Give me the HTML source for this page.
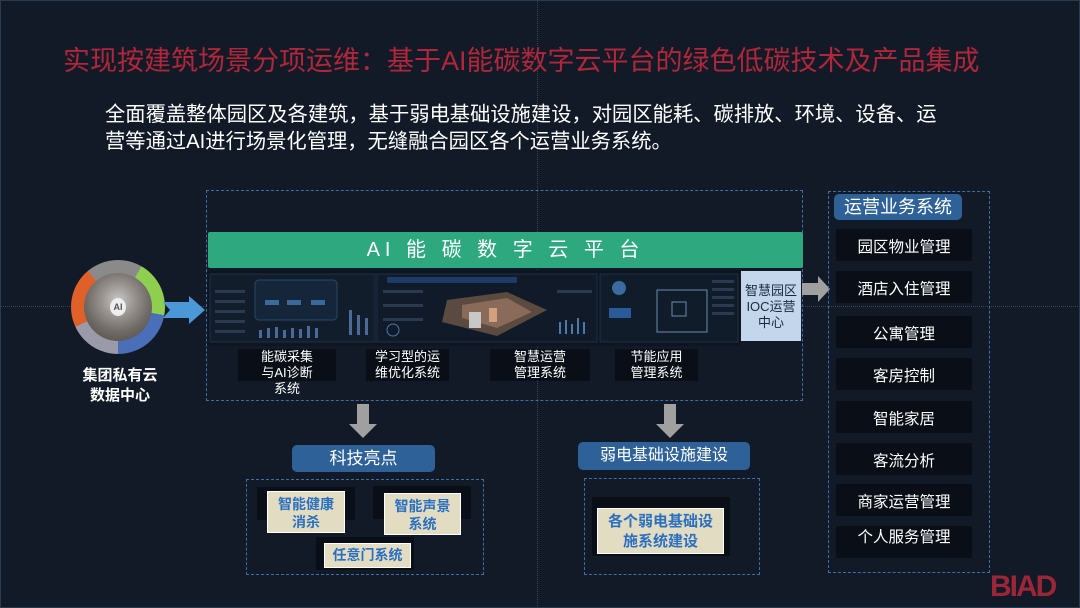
<!DOCTYPE html>
<html><head><meta charset="utf-8">
<style>
*{margin:0;padding:0;box-sizing:border-box}
body{width:1080px;height:608px;overflow:hidden;background:#111a26;font-family:"Liberation Sans","Noto Sans CJK SC",sans-serif;position:relative}
.a{position:absolute}
.t{color:#fff;text-align:center}
.dash{position:absolute;border:1.5px dashed #3b6fa8}
.dk{position:absolute;background:#0a0f17}
.lab{position:absolute;background:#0a0f17;color:#fff;font-size:13px;line-height:16px;text-align:center}
.item{position:absolute;left:836px;width:136px;height:32px;background:#0a0f17;color:#fff;font-size:15.5px;line-height:37px;text-align:center;overflow:hidden}
.hdr{position:absolute;background:#2d6197;color:#fff;border-radius:5px;text-align:center}
.cream{position:absolute;background:#e2dcc2;color:#2a6fc0;font-size:14px;line-height:18px;text-align:center;border:1px solid #fff;font-weight:bold}
</style></head><body>
<div class="a" style="left:537px;top:0;width:0;height:608px;border-left:1px dotted #3a4450"></div>
<div class="a" style="left:0;top:306px;width:1080px;height:0;border-top:1px dotted #3a4450"></div>
<div class="a" style="left:0;top:0;width:1080px;height:608px;border:1px solid #2b3a50"></div>

<div class="a" style="left:63px;top:44px;font-size:27px;color:#b0263a;white-space:nowrap;line-height:34px">实现按建筑场景分项运维：基于AI能碳数字云平台的绿色低碳技术及产品集成</div>
<div class="a" style="left:105px;top:102px;font-size:20.3px;color:#fff;white-space:nowrap;line-height:27px">全面覆盖整体园区及各建筑，基于弱电基础设施建设，对园区能耗、碳排放、环境、设备、运<br>营等通过AI进行场景化管理，无缝融合园区各个运营业务系统。</div>

<!-- circle -->
<div class="a" style="left:71px;top:260px;width:94px;height:94px;border-radius:50%;background:conic-gradient(#8a8a8a 0 30deg,#8fcf4f 30deg 100deg,#4a6fb8 100deg 180deg,#9a9aa8 180deg 245deg,#e0602a 245deg 320deg,#8a8a8a 320deg)"></div>
<div class="a" style="left:84px;top:273px;width:68px;height:68px;border-radius:50%;background:radial-gradient(circle at 50% 40%,#c8c8c8 0,#9a9590 30%,#6f6a66 60%,#4a4440 100%)"></div>
<div class="a" style="left:110px;top:298px;width:16px;height:18px;border-radius:50%;background:#eee;color:#555;font-size:9px;font-weight:bold;line-height:18px;text-align:center">AI</div>
<div class="a t" style="left:70px;top:366px;width:100px;font-size:15px;font-weight:bold;line-height:20px">集团私有云<br>数据中心</div>
<svg class="a" style="left:163px;top:296px" width="42" height="28"><polygon points="0,6 26,6 26,0 42,14 26,28 26,22 0,22 7,14" fill="#4a98d8"/></svg>

<!-- main box -->
<div class="dash" style="left:206px;top:190px;width:597px;height:211px"></div>
<div class="a" style="left:208px;top:232px;width:595px;height:36px;background:#2ea87e;border-radius:2px;color:#fff;font-size:20px;line-height:36px;text-align:center;letter-spacing:5px">AI 能 碳 数 字 云 平 台</div>
<svg class="a" style="left:207px;top:270px" width="533" height="76">
<rect width="533" height="76" fill="#0d1520"/>
<rect x="3" y="4" width="165" height="68" fill="#121d2b" stroke="#1e3048"/>
<rect x="48" y="10" width="82" height="40" rx="4" fill="#16263a" stroke="#2a4868"/>
<g fill="#3a6a9a"><rect x="58" y="30" width="14" height="5"/><rect x="80" y="30" width="14" height="5"/><rect x="104" y="30" width="14" height="5"/></g>
<g fill="#4a6a9a"><rect x="52" y="60" width="3" height="8"/><rect x="60" y="58" width="3" height="10"/><rect x="68" y="57" width="3" height="11"/><rect x="76" y="60" width="3" height="8"/><rect x="84" y="58" width="3" height="10"/><rect x="92" y="59" width="3" height="9"/><rect x="100" y="56" width="3" height="12"/><rect x="108" y="58" width="3" height="10"/><rect x="142" y="40" width="3" height="25"/><rect x="150" y="45" width="3" height="20"/><rect x="158" y="48" width="3" height="17"/></g>
<g fill="#2a3a50"><rect x="8" y="20" width="30" height="3"/><rect x="8" y="30" width="30" height="3"/><rect x="8" y="40" width="30" height="3"/><rect x="8" y="50" width="30" height="3"/><rect x="8" y="60" width="30" height="3"/></g>
<rect x="170" y="4" width="220" height="68" fill="#101a28" stroke="#1e3048"/>
<rect x="180" y="7" width="130" height="6" fill="#1e3a66"/>
<polygon points="240,30 300,22 340,40 290,66 235,52" fill="#5a4a40"/>
<polygon points="255,35 300,28 325,42 290,58 255,48" fill="#8a6a58"/>
<rect x="262" y="42" width="12" height="16" fill="#c8c8c8"/><rect x="282" y="38" width="8" height="14" fill="#d0a080"/>
<g fill="#2a3a50"><rect x="176" y="20" width="40" height="3"/><rect x="176" y="34" width="40" height="3"/><rect x="176" y="48" width="40" height="3"/><rect x="350" y="20" width="35" height="3"/></g>
<g fill="#4a7aaa"><rect x="352" y="52" width="2" height="12"/><rect x="358" y="50" width="2" height="14"/><rect x="364" y="54" width="2" height="10"/><rect x="370" y="48" width="2" height="16"/><rect x="376" y="52" width="2" height="12"/></g>
<circle cx="186" cy="60" r="6" fill="none" stroke="#4a7aaa"/>
<rect x="393" y="4" width="138" height="68" fill="#111c2a" stroke="#1e3048"/>
<circle cx="412" cy="18" r="7" fill="#3a6aa0"/><rect x="402" y="38" width="22" height="10" fill="#2a5a9a"/>
<rect x="450" y="20" width="50" height="42" fill="none" stroke="#6a8ab0"/><rect x="465" y="32" width="14" height="14" fill="none" stroke="#6a8ab0"/>
<g fill="#2a3a50"><rect x="505" y="10" width="22" height="3"/><rect x="505" y="18" width="22" height="3"/><rect x="505" y="26" width="22" height="3"/><rect x="505" y="34" width="22" height="3"/><rect x="505" y="42" width="22" height="3"/></g>
</svg>
<div class="a" style="left:741px;top:271px;width:60px;height:70px;background:#c3d6ec;color:#1a2a3a;font-size:13px;line-height:16px;text-align:center;padding-top:12px">智慧园区<br>IOC运营<br>中心</div>
<div class="lab" style="left:238px;top:349px;width:98px;height:32px;padding-top:0">能碳采集<br>与AI诊断<br>系统</div>
<div class="lab" style="left:366px;top:349px;width:83px;height:32px;padding-top:0">学习型的运<br>维优化系统</div>
<div class="lab" style="left:490px;top:349px;width:100px;height:32px">智慧运营<br>管理系统</div>
<div class="lab" style="left:615px;top:349px;width:83px;height:32px">节能应用<br>管理系统</div>
<svg class="a" style="left:802px;top:276px" width="28" height="26"><polygon points="0,7 16,7 16,0 28,13 16,26 16,19 0,19" fill="#a0a0a0"/></svg>

<!-- right column -->
<div class="dash" style="left:828px;top:191px;width:162px;height:382px"></div>
<div class="hdr" style="left:834px;top:194px;width:128px;height:26px;font-size:18px;line-height:26px">运营业务系统</div>
<div class="item" style="top:229px">园区物业管理</div>
<div class="item" style="top:271px">酒店入住管理</div>
<div class="item" style="top:316px">公寓管理</div>
<div class="item" style="top:358px">客房控制</div>
<div class="item" style="top:401px">智能家居</div>
<div class="item" style="top:443px">客流分析</div>
<div class="item" style="top:484px">商家运营管理</div>
<div class="item" style="top:526px;line-height:24px">个人服务管理</div>

<!-- down arrows -->
<svg class="a" style="left:349px;top:404px" width="28" height="34"><polygon points="8,0 20,0 20,20 28,20 14,34 0,20 8,20" fill="#a0a0a0"/></svg>
<svg class="a" style="left:656px;top:404px" width="28" height="34"><polygon points="8,0 20,0 20,20 28,20 14,34 0,20 8,20" fill="#a0a0a0"/></svg>

<div class="hdr" style="left:292px;top:445px;width:143px;height:27px;font-size:17px;line-height:27px">科技亮点</div>
<div class="hdr" style="left:578px;top:442px;width:172px;height:28px;font-size:16px;line-height:28px">弱电基础设施建设</div>
<div class="dash" style="left:246px;top:479px;width:238px;height:96px"></div>
<div class="dash" style="left:584px;top:478px;width:176px;height:97px"></div>
<div class="dk" style="left:257px;top:487px;width:98px;height:33px"></div>
<div class="dk" style="left:373px;top:486px;width:98px;height:33px"></div>
<div class="dk" style="left:316px;top:537px;width:98px;height:33px"></div>
<div class="dk" style="left:592px;top:497px;width:138px;height:59px"></div>
<div class="cream" style="left:267px;top:491px;width:78px;height:42px;padding-top:3px">智能健康<br>消杀</div>
<div class="cream" style="left:384px;top:493px;width:77px;height:42px;padding-top:3px">智能声景<br>系统</div>
<div class="cream" style="left:324px;top:543px;width:87px;height:25px;line-height:23px">任意门系统</div>
<div class="cream" style="left:597px;top:508px;width:127px;height:46px;font-size:15px;line-height:20px;padding-top:3px">各个弱电基础设<br>施系统建设</div>

<div class="a" style="left:990px;top:570px;font-size:30px;font-weight:bold;color:#9a2638;letter-spacing:-2px;line-height:34px">BIAD</div>
</body></html>
